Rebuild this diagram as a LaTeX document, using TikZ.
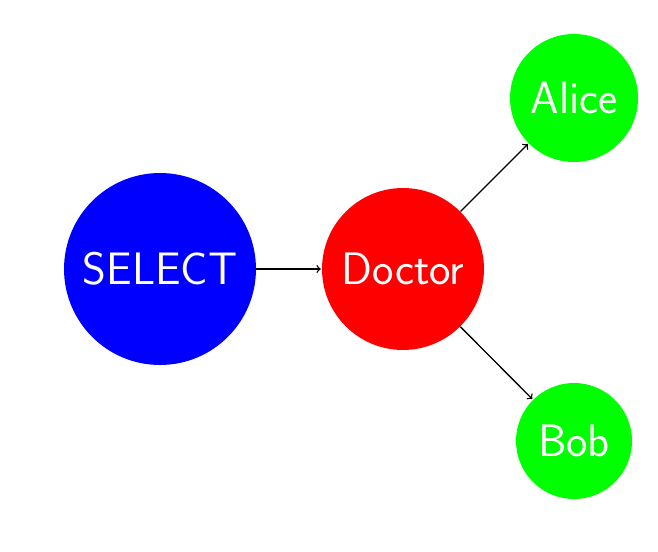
\documentclass[tikz,border=0pt]{standalone}
\usetikzlibrary{positioning}
\tikzstyle{ball} = [circle, text=white, inner sep=0pt, font=\sffamily\fontsize{25.9}{31}\selectfont]
\tikzstyle{arrow} = [->, line width=0.75pt, shorten >=0.5pt]
\begin{document}
\begin{tikzpicture}[x=0.02cm, y=-0.02cm]
	\useasboundingbox (0,0) rectangle (658,551);
	\node (select)[ball, fill=blue, minimum size=3.84cm] at (160,269) {SELECT};
	\node (doctor)[ball, fill=red, minimum size=3.24cm] at (403,269) {Doctor};
	\node (alice)[ball, fill=green, minimum size=2.56cm] at (574,98) {Alice};
	\node (bob)[ball, fill=green, minimum size=2.32cm] at (574,441) {Bob};
	\draw [arrow] (select) -- (doctor);
	\draw [arrow] (doctor) -- (alice);
	\draw [arrow] (doctor) -- (bob);
\end{tikzpicture}
\end{document}
